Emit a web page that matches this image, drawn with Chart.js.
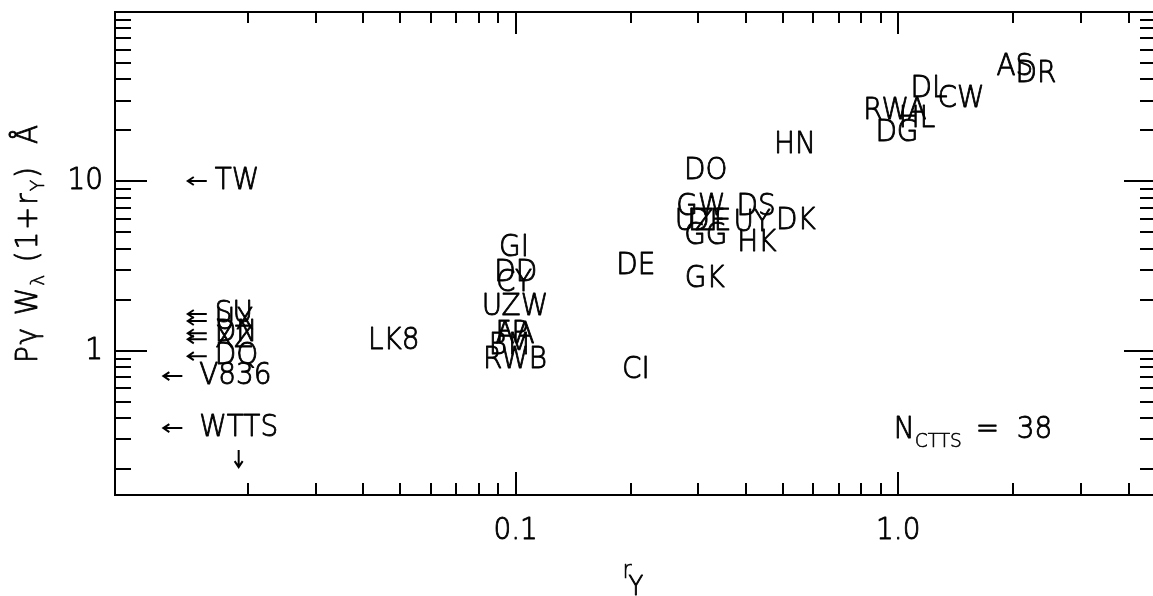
<!DOCTYPE html>
<html lang="en">
<head>
<meta charset="UTF-8">
<title>Pγ W(1+rY) vs rY</title>
<script src="https://cdn.jsdelivr.net/npm/chart.js"></script>
<style>
    html, body { margin: 0; padding: 0; background: #fff; overflow: hidden; }
    #wrap { width: 1160px; height: 596px; }
</style>
</head>
<body>
<div id="wrap"><canvas id="pgChart" width="1160" height="596"></canvas></div>
<script>
// CTTS with measured veiling r_Y
const names = ['LK8', 'GI', 'DD', 'CY', 'UZW', 'AA', 'FP', 'BM', 'RWB', 'DE', 'CI',
               'DO', 'GW', 'DS', 'UZE', 'DF', 'UY', 'DK', 'GG', 'HK', 'GK', 'HN',
               'RWA', 'HL', 'DG', 'DL', 'CW', 'AS', 'DR'];
const rY = [0.048, 0.099, 0.100, 0.099, 0.0996, 0.0996, 0.0978, 0.0966, 0.0996, 0.206, 0.206,
            0.314, 0.305, 0.425, 0.309, 0.316, 0.415, 0.540, 0.314, 0.427, 0.312, 0.537,
            0.980, 1.119, 0.992, 1.203, 1.459, 2.018, 2.290];
const pgW = [1.14, 4.05, 2.88, 2.51, 1.82, 1.24, 1.26, 1.07, 0.88, 3.17, 0.77,
             11.5, 7.06, 7.06, 5.76, 5.76, 5.68, 5.84, 4.76, 4.33, 2.66, 16.4,
             26.0, 23.4, 19.3, 35.1, 30.7, 47.3, 43.1];

// upper limits in r_Y (drawn with a left arrow)
const limNames = ['TW', 'SU', 'UX', 'DN', 'XZ', 'DQ', ' V836'];
const limR = [0.0139, 0.0139, 0.0139, 0.0139, 0.0139, 0.0139, 0.0120];
const limW = [10.06, 1.65, 1.50, 1.27, 1.17, 0.93, 0.71];

// weak-lined T Tauri stars: upper limit in both
const wttsName = [' WTTS'];
const wttsR = [0.0120];
const wttsW = [0.35];

// axes
const xRange = [0.00897, 4.7165];
const yRange = [0.141, 100];
const xMajor = [0.1, 1];
const xMajorLabels = ['0.1', '1.0'];
const xMinor = [0.02, 0.03, 0.04, 0.05, 0.06, 0.07, 0.08, 0.09,
                0.2, 0.3, 0.4, 0.5, 0.6, 0.7, 0.8, 0.9, 2, 3, 4];
const yMajor = [1, 10];
const yMajorLabels = ['1', '10'];
const yMinor = [0.2, 0.3, 0.4, 0.5, 0.6, 0.7, 0.8, 0.9,
                2, 3, 4, 5, 6, 7, 8, 9, 20, 30, 40, 50, 60, 70, 80, 90];
const nCtts = '38';

const FONT = '"DejaVu Sans", sans-serif';
const WEIGHT = '200';
const SQUEEZE = 0.93;

// thin font, thickened a little with a stroke to get plotter-like lines
function txt(ctx, s, px, py, size, align, base) {
    ctx.save();
    ctx.font = WEIGHT + ' ' + size + 'px ' + FONT;
    ctx.translate(px, py);
    ctx.scale(SQUEEZE, 1);
    ctx.textAlign = align || 'center';
    ctx.textBaseline = base || 'middle';
    ctx.lineWidth = size > 24 ? 0.9 : 0.6;
    ctx.lineJoin = 'round';
    ctx.fillText(s, 0, 0);
    ctx.strokeText(s, 0, 0);
    ctx.restore();
}

function txtWidth(ctx, s, size) {
    ctx.save();
    ctx.font = WEIGHT + ' ' + size + 'px ' + FONT;
    const w = ctx.measureText(s).width * SQUEEZE;
    ctx.restore();
    return w;
}

function arrowLeft(ctx, px, py) {
    ctx.beginPath();
    ctx.moveTo(px, py); ctx.lineTo(px + 19, py);
    ctx.moveTo(px + 6, py - 4); ctx.lineTo(px, py); ctx.lineTo(px + 6, py + 4);
    ctx.stroke();
}

function arrowDown(ctx, px, py) {
    ctx.beginPath();
    ctx.moveTo(px, py); ctx.lineTo(px, py + 17);
    ctx.moveTo(px - 4, py + 11); ctx.lineTo(px, py + 17); ctx.lineTo(px + 4, py + 11);
    ctx.stroke();
}

const framePlugin = {
    id: 'frame',
    afterDatasetsDraw(chart) {
        const ctx = chart.ctx;
        const a = chart.chartArea;
        const x = chart.scales.x, y = chart.scales.y;
        ctx.save();
        ctx.strokeStyle = '#000';
        ctx.fillStyle = '#000';
        ctx.lineWidth = 2;
        ctx.strokeRect(a.left, a.top, a.right - a.left, a.bottom - a.top);

        // ticks pointing inward
        ctx.beginPath();
        xMinor.forEach(v => {
            const px = Math.round(x.getPixelForValue(v));
            ctx.moveTo(px, a.bottom); ctx.lineTo(px, a.bottom - 12);
            ctx.moveTo(px, a.top); ctx.lineTo(px, a.top + 11);
        });
        xMajor.forEach(v => {
            const px = Math.round(x.getPixelForValue(v));
            ctx.moveTo(px, a.bottom); ctx.lineTo(px, a.bottom - 23);
            ctx.moveTo(px, a.top); ctx.lineTo(px, a.top + 22);
        });
        yMinor.forEach(v => {
            const py = Math.round(y.getPixelForValue(v));
            ctx.moveTo(a.left, py); ctx.lineTo(a.left + 16, py);
            ctx.moveTo(a.right, py); ctx.lineTo(a.right - 16, py);
        });
        yMajor.forEach(v => {
            const py = Math.round(y.getPixelForValue(v));
            ctx.moveTo(a.left, py); ctx.lineTo(a.left + 32, py);
            ctx.moveTo(a.right, py); ctx.lineTo(a.right - 32, py);
        });
        ctx.stroke();

        // tick labels
        xMajor.forEach((v, i) => txt(ctx, xMajorLabels[i], x.getPixelForValue(v), a.bottom + 36, 30));
        yMajor.forEach((v, i) => txt(ctx, yMajorLabels[i], a.left - 12, y.getPixelForValue(v), 30, 'right'));

        // x title r_Y
        const cx = (a.left + a.right) / 2;
        txt(ctx, 'r', cx - 13, a.bottom + 83, 24, 'left', 'alphabetic');
        txt(ctx, 'Y', cx - 7, a.bottom + 100, 26, 'left', 'alphabetic');

        // y title, rotated
        const parts = [['Pγ W', 30, 0], ['λ', 20, 7], [' (1+r', 30, 0], ['Y', 20, 7], [')  Å', 30, 0]];
        ctx.save();
        ctx.letterSpacing = '2px';
        let total = 0;
        parts.forEach(p => { total += txtWidth(ctx, p[0], p[1]); });
        ctx.translate(37, a.top + 231);
        ctx.rotate(-Math.PI / 2);
        let off = -total / 2;
        parts.forEach(p => {
            txt(ctx, p[0], off, p[2], p[1], 'left', 'alphabetic');
            off += txtWidth(ctx, p[0], p[1]);
        });
        ctx.restore();

        // N_CTTS annotation
        const lx = a.left + 0.748 * (a.right - a.left);
        const ly = a.top + 426;
        txt(ctx, 'N', lx, ly, 30, 'left', 'alphabetic');
        txt(ctx, 'CTTS', lx + 21, ly + 9, 20, 'left', 'alphabetic');
        txt(ctx, '=  ' + nCtts, lx + 82, ly, 30, 'left', 'alphabetic');

        // star labels at their data positions
        const det = chart.getDatasetMeta(0).data;
        det.forEach((pt, i) => txt(ctx, names[i], pt.x, pt.y, 30));

        const lim = chart.getDatasetMeta(1).data;
        lim.forEach((pt, i) => {
            arrowLeft(ctx, pt.x, pt.y);
            txt(ctx, limNames[i], pt.x + 27, pt.y, 30, 'left');
        });

        const wt = chart.getDatasetMeta(2).data;
        wt.forEach((pt, i) => {
            arrowLeft(ctx, pt.x, pt.y);
            txt(ctx, wttsName[i], pt.x + 27, pt.y, 30, 'left');
            const sp = txtWidth(ctx, ' ', 30);
            const w = txtWidth(ctx, wttsName[i].trim(), 30);
            arrowDown(ctx, pt.x + 27 + sp + w / 2, pt.y + 22);
        });
        ctx.restore();
    }
};

const toPts = (xs, ys) => xs.map((v, i) => ({ x: v, y: ys[i] }));

new Chart(document.getElementById('pgChart'), {
    type: 'scatter',
    data: {
        datasets: [
            { label: 'CTTS', data: toPts(rY, pgW), pointRadius: 0 },
            { label: 'limits', data: toPts(limR, limW), pointRadius: 0 },
            { label: 'WTTS', data: toPts(wttsR, wttsW), pointRadius: 0 }
        ]
    },
    options: {
        responsive: false,
        animation: false,
        devicePixelRatio: 1,
        layout: { padding: { left: 115, right: 4, top: 12, bottom: 101 } },
        plugins: { legend: { display: false }, tooltip: { enabled: false } },
        scales: {
            x: { type: 'logarithmic', min: xRange[0], max: xRange[1], display: false },
            y: { type: 'logarithmic', min: yRange[0], max: yRange[1], display: false }
        }
    },
    plugins: [framePlugin]
});
</script>
</body>
</html>
